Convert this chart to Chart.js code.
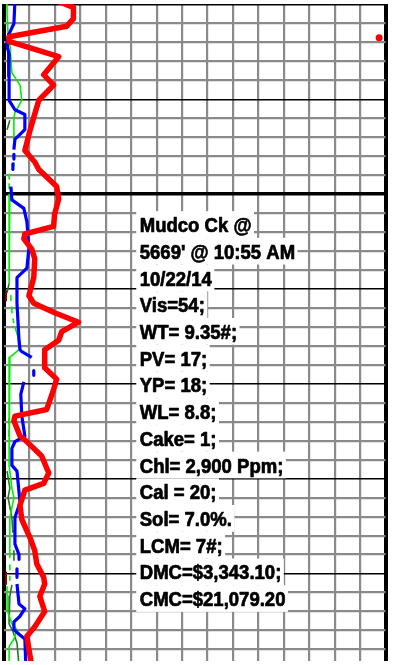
<!DOCTYPE html>
<html lang="en">
  <head>
    <meta charset="UTF-8" />
    <meta name="viewport" content="width=device-width, initial-scale=1.0" />
    <title>Mud Log</title>
    <style>
      body {
        margin: 0;
        padding: 0;
        background: #fff;
        overflow: hidden;
      }

      #log-chart {
        display: block;
      }
    </style>
  </head>
  <body>
    <canvas id="log-chart" width="393" height="665"></canvas>
    <script src="https://cdn.jsdelivr.net/npm/chart.js@4.4.0/dist/chart.umd.min.js"></script>
    <script>
      // Drill rate (red)
      let ropDepth = [
        5579.4, 5580.3, 5581.5, 5582.3, 5583.4, 5583.9, 5585.5, 5587.4, 5588.5, 5590.1,
        5591.9, 5593.3, 5595.4, 5596.6, 5597.4, 5599.2, 5600.5, 5602.1, 5603.4, 5604.2,
        5604.7, 5605.8, 5606.8, 5608.8, 5610.7, 5611.5, 5612.5, 5613.5, 5614.5, 5615.4,
        5616.4, 5618.3, 5619.5, 5620.6, 5622.7, 5623.4, 5623.9, 5625.5, 5625.8, 5627.6,
        5629.4, 5630.5, 5631.2, 5632.8, 5634.3, 5636.2, 5637.6, 5639.0, 5640.4, 5641.1,
        5642.4, 5644.0, 5645.6, 5646.6, 5648.0, 5649.7,
      ];
      let ropValue = [
        18.8, 27.3, 27.3, 24.6, 2.0, 2.0, 21.5, 15.6, 19.5, 13.7,
        11.7, 10.2, 8.2, 12.1, 13.7, 20.7, 21.5, 19.9, 19.5, 8.2,
        7.8, 10.9, 12.1, 11.7, 9.8, 11.7, 19.9, 29.3, 22.7, 21.5,
        16.0, 16.0, 20.7, 19.5, 16.8, 4.3, 3.9, 6.3, 7.8, 14.8,
        17.6, 15.6, 8.2, 6.3, 7.0, 10.2, 12.1, 12.9, 15.6, 16.0,
        14.1, 16.0, 12.1, 9.0, 9.8, 10.9,
      ];

      // Total gas (blue), null = no reading
      let gasDepth = [
        5579.6, 5582.0, 5583.1, 5583.9, 5584.4, 5585.2, 5587.6, 5590.1, 5591.1, 5591.6,
        5593.2, 5593.8, 5594.2, 5595.3, null, 5595.8, 5596.3, null, 5596.8, 5597.4,
        null, 5599.2, 5600.6, 5601.5, 5602.9, 5605.7, 5607.8, 5608.8, 5611.5, 5615.4,
        5616.4, 5616.6, 5617.2, null, 5618.6, 5619.1, null, 5619.8, 5621.1, 5623.4,
        5625.5, 5626.1, 5626.8, 5628.6, 5629.2, 5632.5, 5634.1, 5636.9, 5638.0, 5638.5,
        null, 5639.5, 5640.4, null, 5641.1, 5643.2, 5643.7, 5644.5, 5645.1, 5645.9,
        5646.4, 5646.9, 5649.7,
      ];
      let gasValue = [
        4.3, 3.9, 2.0, 1.2, 1.2, 2.0, 2.0, 2.0, 4.3, 8.2,
        8.2, 5.9, 4.3, 3.9, null, 3.9, 3.9, null, 3.5, 3.5,
        null, 2.7, 3.1, 7.8, 9.0, 9.8, 9.0, 5.1, 5.1, 5.9,
        6.3, 7.0, 10.9, null, 11.7, 11.7, null, 7.8, 6.6, 7.0,
        8.2, 4.3, 3.1, 3.1, 5.1, 6.3, 4.3, 4.3, 5.9, 5.9,
        null, 5.1, 5.1, null, 5.1, 5.9, 8.2, 6.3, 3.9, 3.9,
        5.9, 8.2, 8.6,
      ];

      // C1 (light green)
      let c1Depth = [
        5579.6, 5581.0, 5583.1, 5584.1, 5587.2, 5588.5, 5590.1, 5591.4, 5591.9, 5594.2,
        null, 5594.8, 5595.1, null, 5595.8, 5596.1, null, 5596.7, 5597.0, null,
        5597.9, 5598.4, null, 5598.9, 5599.4, null, 5600.0, 5609.4, null, 5610.7,
        5611.2, null, 5611.9, 5612.5, null, 5613.1, 5613.6, null, 5614.0, 5615.4,
        5616.4, 5617.2, 5617.9, 5628.6, 5631.0, 5632.0, 5634.1, 5638.3, null, 5639.1,
        5639.6, null, 5640.3, 5640.7, null, 5641.4, 5643.8, 5645.3, 5645.9, 5646.9,
        5647.7, 5649.7,
      ];
      let c1Value = [
        1.2, 1.2, 1.6, 2.3, 3.1, 6.3, 7.0, 4.3, 3.9, 3.9,
        null, 3.9, 3.9, null, 3.9, 3.9, null, 3.9, 3.9, null,
        2.0, 2.0, null, 2.0, 2.0, null, 2.3, 2.0, null, 2.7,
        2.7, null, 3.1, 3.1, null, 3.5, 3.9, null, 4.3, 5.9,
        5.9, 2.3, 2.0, 2.0, 3.1, 3.9, 2.3, 2.3, null, 2.3,
        2.3, null, 2.3, 2.3, null, 1.2, 1.2, 3.1, 5.1, 3.9,
        2.0, 2.0,
      ];

      // C2 (dark green)
      let c2Depth = [
        5592.2, 5593.2, null, 5609.4, 5610.4, null, 5623.7, 5624.2, null, 5624.9,
        5625.5, null, 5629.2, 5631.0, 5632.0, 5634.1, 5635.7, null, 5637.6, 5638.6,
        null, 5641.2, 5642.4, 5643.7, 5645.3, 5646.1, 5647.3, 5649.7,
      ];
      let c2Value = [
        2.3, 1.2, null, 2.0, 1.2, null, 2.0, 2.0, null, 2.0,
        2.0, null, 1.2, 2.3, 1.6, 3.1, 3.5, null, 3.9, 3.9,
        null, 3.1, 2.3, 2.0, 2.0, 3.5, 5.1, 5.9,
      ];

      // C3 (dark red)
      let c3Depth = [5583.1, 5587.6, null, 5610.2, 5611.2, null, 5639.9, 5641.1];
      let c3Value = [1.6, 1.6, null, 0.8, 0.8, null, 0.8, 0.8];

      // single drill rate reading on the far right of the track
      let ropSpikeDepth = [5583.5];
      let ropSpikeValue = [147.5];

      let mudReport = [
        'Mudco Ck @',
        "5669' @ 10:55 AM",
        '10/22/14',
        'Vis=54;',
        'WT= 9.35#;',
        'PV= 17;',
        'YP= 18;',
        'WL= 8.8;',
        'Cake= 1;',
        'Chl= 2,900 Ppm;',
        'Cal = 20;',
        'Sol= 7.0%.',
        'LCM= 7#;',
        'DMC=$3,343.10;',
        'CMC=$21,079.20',
      ];

      let topDepth = 5579.948;
      let bottomDepth = 5649.22;

      function toPoints(depths, values) {
        return depths.map((d, i) => ({ x: values[i], y: d }));
      }

      function curve(depths, values, color, width) {
        return {
          data: toPoints(depths, values),
          borderColor: color,
          backgroundColor: color,
          borderWidth: width,
          borderJoinStyle: 'round',
          borderCapStyle: 'butt',
          showLine: true,
          spanGaps: false,
          pointRadius: 0,
          fill: false,
        };
      }

      // mud check box, anchored to the track scales
      const mudReportPlugin = {
        id: 'mudReport',
        afterDraw(chart) {
          const ctx = chart.ctx;
          const left = chart.scales.x.getPixelForValue(52);
          const firstBase = chart.scales.y.getPixelForValue(5604.0);
          const lineStep = 26.72;
          const squeeze = 0.95;
          ctx.save();
          ctx.font = 'bold 19.5px "Liberation Sans", Arial, sans-serif';
          ctx.textBaseline = 'alphabetic';
          mudReport.forEach((line, i) => {
            const base = firstBase + i * lineStep;
            const w = ctx.measureText(line).width * squeeze;
            ctx.fillStyle = '#fff';
            ctx.fillRect(left, base - 21, w + 6, lineStep);
            ctx.save();
            ctx.translate(left + 3.5, base);
            ctx.scale(squeeze, 1);
            ctx.fillStyle = '#000';
            ctx.strokeStyle = '#000';
            ctx.lineWidth = 0.7;
            ctx.lineJoin = 'round';
            ctx.fillText(line, 0, 0);
            ctx.strokeText(line, 0, 0);
            ctx.restore();
          });
          ctx.restore();
        },
      };

      let chart = new Chart(document.getElementById('log-chart'), {
        type: 'scatter',
        data: {
          datasets: [
            curve(ropDepth, ropValue, '#ff0000', 5.5),
            curve(gasDepth, gasValue, '#0000ff', 3.2),
            curve(c3Depth, c3Value, '#8b0000', 2),
            curve(c1Depth, c1Value, '#00ee00', 1.6),
            curve(c2Depth, c2Value, '#1f7a1f', 1.6),
            {
              data: toPoints(ropSpikeDepth, ropSpikeValue),
              backgroundColor: '#ff0000',
              borderWidth: 0,
              pointRadius: 3.5,
              showLine: false,
            },
          ],
        },
        options: {
          responsive: false,
          animation: false,
          events: [],
          layout: {
            padding: { left: 2, right: 7.5, top: 0, bottom: 0 },
          },
          plugins: {
            legend: { display: false },
            tooltip: { enabled: false },
          },
          scales: {
            x: {
              type: 'linear',
              min: 0,
              max: 150,
              ticks: { display: false, stepSize: 10, padding: 0 },
              border: { display: false },
              afterFit: (scale) => {
                scale.height = 0;
              },
              grid: {
                drawTicks: false,
                tickLength: 0,
                color: (c) =>
                  c.tick && (c.tick.value === 0 || c.tick.value === 150) ? '#000' : '#8a8a8a',
                lineWidth: (c) =>
                  c.tick && (c.tick.value === 0 || c.tick.value === 150) ? 4 : 2.2,
              },
            },
            y: {
              type: 'linear',
              reverse: true,
              min: topDepth,
              max: bottomDepth,
              ticks: { display: false, stepSize: 2, includeBounds: false, padding: 0 },
              border: { display: false },
              afterFit: (scale) => {
                scale.width = 0;
              },
              grid: {
                drawTicks: false,
                tickLength: 0,
                color: (c) => {
                  const v = Math.round(c.tick ? c.tick.value : 1);
                  return v % 10 === 0 ? '#000' : '#8a8a8a';
                },
                lineWidth: (c) => {
                  const v = Math.round(c.tick ? c.tick.value : 1);
                  if (v % 100 === 0) return 3.5;
                  if (v % 10 === 0) return 1.5;
                  return 2.2;
                },
              },
            },
          },
        },
        plugins: [mudReportPlugin],
      });
    </script>
  </body>
</html>
